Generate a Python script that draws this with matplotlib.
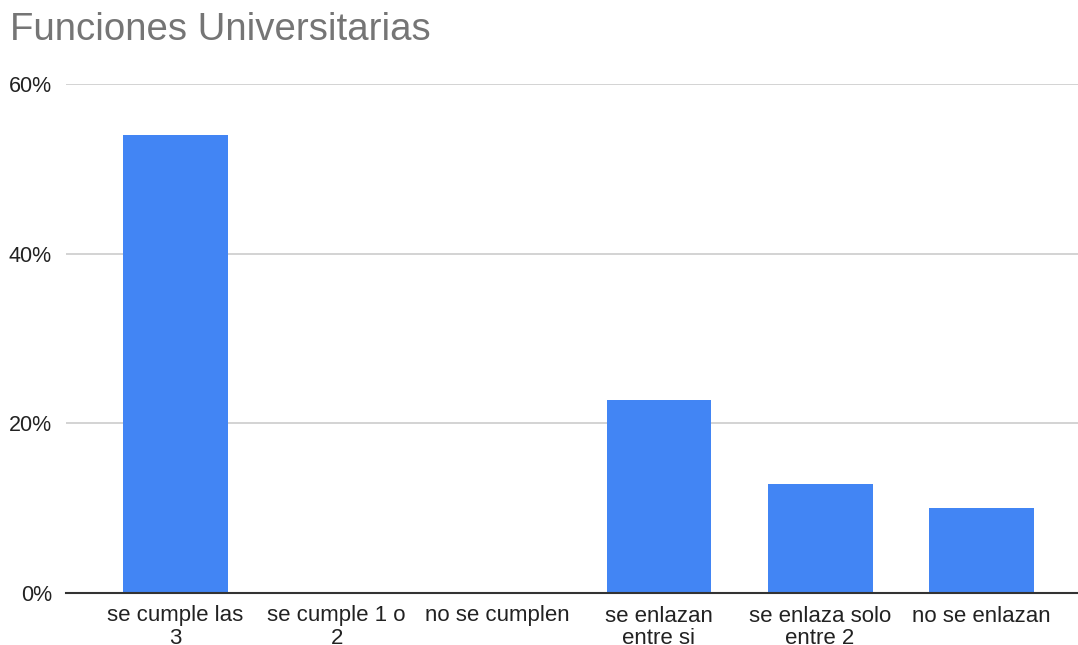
import matplotlib.pyplot as plt
import numpy as np
from matplotlib.ticker import PercentFormatter

# Datos
categorias = ["se cumple las\n3", "se cumple 1 o\n2", "no se cumplen",
              "se enlazan\nentre si", "se enlaza solo\nentre 2", "no se enlazan"]
valores = [0.54, 0.0, 0.0, 0.228, 0.129, 0.10]
yticks = [0.0, 0.2, 0.4, 0.6]

plt.rcParams['font.family'] = ['Liberation Sans', 'DejaVu Sans']

fig = plt.figure(figsize=(10.78, 6.45), dpi=100)
ax = fig.add_axes([66/1078, 52/645, 1 - 66/1078, (593 - 84)/645])

x = np.arange(len(categorias))
ax.bar(x, valores, width=0.65, color='#4285F4', zorder=3)

ax.set_xlim(-0.679, 5.6)
ax.set_ylim(0, 0.6)
ax.set_yticks(yticks)
ax.yaxis.set_major_formatter(PercentFormatter(1.0, decimals=0))
ax.set_xticks(x)
ax.set_xticklabels(categorias, linespacing=1.12)

ax.grid(axis='y', color='#cccccc', linewidth=1.2, zorder=0)
for s in ['top', 'right', 'left']:
    ax.spines[s].set_visible(False)
ax.spines['bottom'].set_color('#333333')
ax.spines['bottom'].set_linewidth(1.5)
ax.spines['bottom'].set_zorder(4)

ax.tick_params(axis='both', length=0, labelcolor='#222222')
ax.tick_params(axis='y', pad=10, labelsize=15.5)
ax.tick_params(axis='x', pad=9, labelsize=16)

fig.text(10/1078, 1 - 40/645, "Funciones Universitarias", fontsize=27.6,
         color='#757575', va='baseline', ha='left')

fig.savefig("out.png", dpi=100)
